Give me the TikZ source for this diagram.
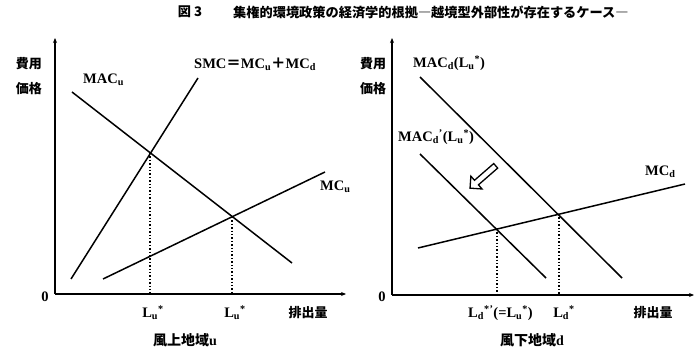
\documentclass[tikz,border=0pt]{standalone}
\usepackage{fontspec}
\setmainfont{Liberation Serif}
\newfontfamily\cjk{Noto Sans CJK JP}
\usetikzlibrary{shapes.arrows,arrows.meta}
\newcommand\Lus{L\textsubscript{u}\textsuperscript{*}}
\newcommand\Lds{L\textsubscript{d}\textsuperscript{*}}
\begin{document}
\begin{tikzpicture}[x=1pt,y=-1pt,
  axis/.style={line width=1.6pt,-{Stealth[length=5pt,width=4pt]}},
  curve/.style={line width=1.5pt},
  guide/.style={line width=1.4pt,dotted},
  lab/.style={font=\fontsize{14.5}{16}\selectfont\bfseries,inner sep=0pt},
  jlab/.style={font=\cjk\fontsize{13}{15}\selectfont\bfseries,inner sep=0pt},
  rlab/.style={font=\cjk\fontsize{14}{16}\selectfont\bfseries,inner sep=0pt},
  title/.style={font=\cjk\fontsize{13.2}{15}\selectfont\bfseries,inner sep=0pt}]
\useasboundingbox (0,0) rectangle (696,347);
% title
\node[title] (fig) at (190,12) {図 3};
\node[title,anchor=west] (ttl) at (233,12) {集権的環境政策の経済学的根拠―越境型外部性が存在するケース―};
% ---------- left panel ----------
\coordinate (o1) at (55,294);
\coordinate (y1) at (55,38);
\coordinate (x1) at (346,294);
\draw[axis] (o1) -- (y1);
\draw[axis] (o1) -- (x1);
\coordinate (macA) at (72,92);
\coordinate (macB) at (292,263);
\coordinate (smcA) at (71,279);
\coordinate (smcB) at (198,78);
\coordinate (mcuA) at (103,279);
\coordinate (mcuB) at (325,172);
\draw[curve] (macA) -- (macB);
\draw[curve] (smcA) -- (smcB);
\draw[curve] (mcuA) -- (mcuB);
\coordinate (p1) at (150,153);
\coordinate (p1b) at (150,294);
\coordinate (p2) at (232,217);
\coordinate (p2b) at (232,294);
\draw[guide] (p1) -- (p1b);
\draw[guide] (p2) -- (p2b);
\node[jlab] (hy1) at (29,64) {費用};
\node[jlab] (ka1) at (29,89) {価格};
\node[lab] (z1) at (45,297) {0};
\node[lab,anchor=west] (lmacu) at (83,80) {MAC\textsubscript{u}};
\node[lab,anchor=west] (lsmc) at (194,64) {SMC{\cjk ＝}MC\textsubscript{u}{\cjk ＋}MC\textsubscript{d}};
\node[lab,anchor=west] (lmcu) at (320,187) {MC\textsubscript{u}};
\node[lab] (lu1) at (153,313) {\Lus};
\node[lab] (lu2) at (235,313) {\Lus};
\node[jlab] (em1) at (308,313) {排出量};
\node[rlab] (reg1) at (185,340) {風上地域{\normalfont\bfseries u}};
% ---------- right panel ----------
\coordinate (o2) at (392,295);
\coordinate (y2) at (392,38);
\coordinate (x2) at (694,295);
\draw[axis] (o2) -- (y2);
\draw[axis] (o2) -- (x2);
\coordinate (macdA) at (420,77);
\coordinate (macdB) at (622,278);
\coordinate (macpA) at (420,154);
\coordinate (macpB) at (546,278);
\coordinate (mcdA) at (418,248);
\coordinate (mcdB) at (685,184);
\draw[curve] (macdA) -- (macdB);
\draw[curve] (macpA) -- (macpB);
\draw[curve] (mcdA) -- (mcdB);
\coordinate (q1) at (497,229);
\coordinate (q1b) at (497,295);
\coordinate (q2) at (559,214);
\coordinate (q2b) at (559,295);
\draw[guide] (q1) -- (q1b);
\draw[guide] (q2) -- (q2b);
\node[single arrow,draw,fill=white,line width=1.3pt,rotate=221,
      minimum height=34pt,minimum width=17pt,single arrow head extend=3pt,
      inner sep=1pt] (shift) at (484,176) {};
\node[jlab] (hy2) at (373,64) {費用};
\node[jlab] (ka2) at (373,89) {価格};
\node[lab] (z2) at (382,297) {0};
\node[lab,anchor=west] (lmacd) at (413,63) {MAC\textsubscript{d}(\Lus)};
\node[lab,anchor=west] (lmacp) at (398,137) {MAC\textsubscript{d}\textsuperscript{'}(\Lus)};
\node[lab,anchor=west] (lmcd) at (645,172) {MC\textsubscript{d}};
\node[lab,anchor=west] (ld1) at (468,313) {\Lds\textsuperscript{'}(=\Lus)};
\node[lab] (ld2) at (564,313) {\Lds};
\node[jlab] (em2) at (653,313) {排出量};
\node[rlab] (reg2) at (532,340) {風下地域{\normalfont\bfseries d}};
\end{tikzpicture}
\end{document}
